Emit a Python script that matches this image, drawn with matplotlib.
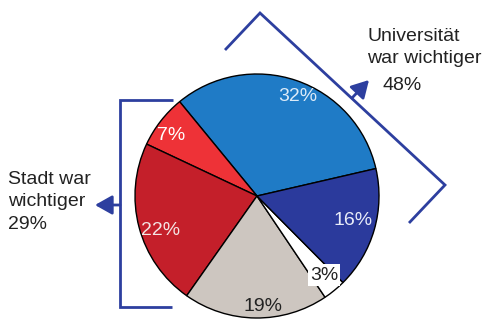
import numpy as np
import matplotlib.pyplot as plt

# Anteile (gegen den Uhrzeigersinn, ab 13 Grad)
shares = [32, 7, 22, 19, 3, 16]
colors = ['#1f7bc6', '#ee3237', '#c41f2a', '#cdc6c0', '#ffffff', '#2b3a9c']
label_colors = ['#dcebf8', 'white', '#f4e4e4', '#222222', '#222222', '#e8ecf8']
# radiale Position und Winkelversatz der Prozentzahlen
label_r = [0.88, 0.86, 0.84, 0.91, 0.85, 0.81]
label_shift = [-3.6, 3.0, 4.7, 3.7, 1.0, 1.8]

uni_label = 'Universität\nwar wichtiger'
uni_pct = '48%'
stadt_label = 'Stadt war\nwichtiger\n29%'

W, H = 490, 322
fig = plt.figure(figsize=(W / 100, H / 100), dpi=100)
ax = fig.add_axes([0, 0, 1, 1])

plt.rcParams['font.family'] = ['Liberation Sans', 'DejaVu Sans']

cx, cy, R = 257, H - 196, 122
wedges, _ = ax.pie(shares, colors=colors, startangle=13, center=(cx, cy), radius=R,
                   wedgeprops=dict(edgecolor='black', linewidth=1.0), frame=True)
ax.set_xlim(0, W)
ax.set_ylim(0, H)
ax.set_aspect('equal')
ax.axis('off')

for i, w in enumerate(wedges):
    a = np.deg2rad((w.theta1 + w.theta2) / 2 + label_shift[i])
    x = cx + label_r[i] * R * np.cos(a)
    y = cy + label_r[i] * R * np.sin(a)
    kw = {}
    if shares[i] == 3:
        kw['bbox'] = dict(facecolor='white', edgecolor='none', pad=1.5)
    ax.text(x, y, f'{shares[i]}%', color=label_colors[i], fontsize=14,
            ha='center', va='center', **kw)

blue = '#2d3f9f'

def bracket(pts):
    xs = [p[0] for p in pts]
    ys = [H - p[1] for p in pts]
    ax.plot(xs, ys, color=blue, lw=2, solid_capstyle='butt', solid_joinstyle='miter')

def arrow(p0, p1):
    ax.annotate('', xy=(p1[0], H - p1[1]), xytext=(p0[0], H - p0[1]),
                arrowprops=dict(arrowstyle='-|>,head_length=0.8,head_width=0.45',
                                color=blue, lw=2, mutation_scale=13,
                                shrinkA=0, shrinkB=0))

# Klammer Stadt
bracket([(173, 100), (120, 100), (120, 307), (172, 307)])
arrow((120, 205), (95, 205))
# Klammer Universität
bracket([(225, 50), (260, 13), (445, 185), (409, 223)])
arrow((352, 98), (369, 80))

ax.text(8, H - 202, stadt_label, fontsize=14, color='#222222', ha='left', va='center',
        linespacing=1.45)
ax.text(367, H - 47.5, uni_label, fontsize=14, color='#222222', ha='left', va='center',
        linespacing=1.45)
ax.text(382, H - 85, uni_pct, fontsize=14, color='#222222', ha='left', va='center')

fig.savefig('out.png', dpi=100)
